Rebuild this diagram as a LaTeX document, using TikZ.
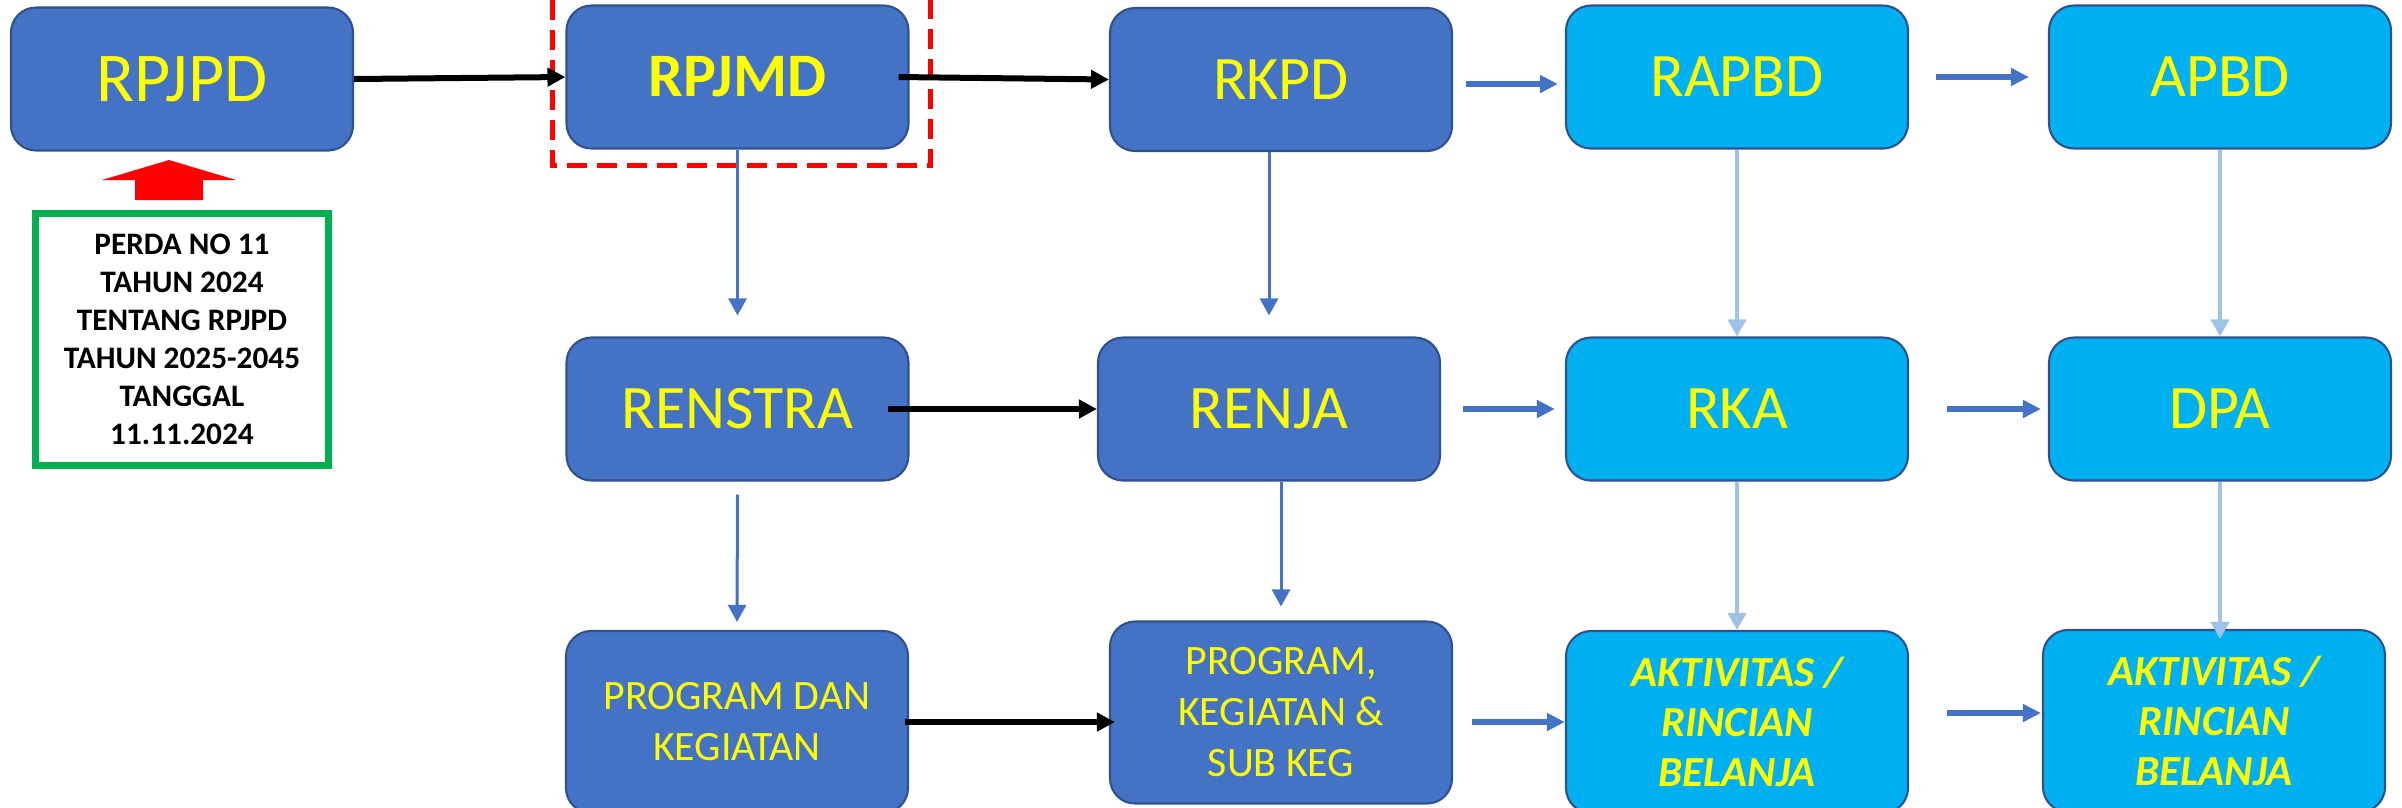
\documentclass[tikz,border=0pt]{standalone}
\usepackage{fontspec}
\setmainfont{Carlito}
\usetikzlibrary{arrows.meta, positioning}
\definecolor{boxblue}{RGB}{68,114,196}
\definecolor{boxcyan}{RGB}{0,176,240}
\definecolor{boxedge}{RGB}{47,82,143}
\definecolor{txtyellow}{RGB}{255,255,0}
\definecolor{framegreen}{RGB}{0,176,80}
\definecolor{paleblue}{RGB}{157,195,230}
\definecolor{myred}{RGB}{255,0,0}
\tikzset{
  darkbox/.style={rectangle, draw=boxedge, fill=boxblue, text=txtyellow,
    minimum width=3.42cm, minimum height=1.43cm, align=center,
    rounded corners=0.25cm, line width=0.6pt, inner sep=0pt},
  cyanbox/.style={darkbox, fill=boxcyan},
  tallbox/.style={minimum height=1.82cm},
  titlefont/.style={font=\fontsize{17.6}{21}\selectfont},
  boldtitle/.style={font=\bfseries\fontsize{17.6}{21}\selectfont},
  smallfont/.style={font=\fontsize{11.9}{14.5}\selectfont},
  italicfont/.style={font=\bfseries\itshape\fontsize{12.2}{14.2}\selectfont},
  perdabox/.style={rectangle, draw=framegreen, fill=white, line width=0.07cm,
    minimum width=2.93cm, minimum height=2.52cm, align=center, inner sep=0pt,
    font=\bfseries\fontsize{8.9}{10.8}\selectfont},
  blackarrow/.style={-{Triangle[length=0.18cm, width=0.18cm]}, line width=0.06cm, color=black},
  bluearrow/.style={-{Triangle[length=0.18cm, width=0.17cm]}, line width=0.06cm, color=boxblue},
  thinarrow/.style={-{Triangle[length=0.17cm, width=0.18cm]}, line width=0.03cm, color=boxblue},
  lightarrow/.style={-{Triangle[length=0.17cm, width=0.18cm]}, line width=0.04cm, color=paleblue},
  reddash/.style={draw=myred, line width=0.05cm, dash pattern=on 0.2cm off 0.1cm}
}
\begin{document}
\begin{tikzpicture}[y=-1cm]
  \useasboundingbox (0,0) rectangle (24.02,8.07);
  \clip (0,0) rectangle (24.02,8.07);

  % Top row
  \node[darkbox, font=\fontsize{19.9}{23}\selectfont] (rpjpd) at (1.82,0.79) {RPJPD};
  \node[darkbox, boldtitle] (rpjmd) at (7.375,0.77) {RPJMD};
  \node[darkbox, titlefont] (rkpd) at (12.81,0.795) {RKPD};
  \node[cyanbox, titlefont] (rapbd) at (17.37,0.77) {RAPBD};
  \node[cyanbox, titlefont] (apbd) at (22.20,0.77) {APBD};

  % Middle row
  \node[darkbox, titlefont] (renstra) at (7.375,4.09) {RENSTRA};
  \node[darkbox, titlefont] (renja) at (12.69,4.09) {RENJA};
  \node[cyanbox, titlefont] (rka) at (17.37,4.09) {RKA};
  \node[cyanbox, titlefont] (dpa) at (22.20,4.09) {DPA};

  % Bottom row
  \node[darkbox, tallbox, smallfont] (progdan) at (7.37,7.22) {PROGRAM DAN\\KEGIATAN};
  \node[darkbox, tallbox, smallfont] (progsub) at (12.81,7.125) {PROGRAM,\\KEGIATAN \&\\SUB KEG};
  \node[cyanbox, tallbox, italicfont] (akt1) at (17.37,7.22) {AKTIVITAS /\\RINCIAN\\BELANJA};
  \node[cyanbox, tallbox, italicfont] (akt2) at (22.14,7.21) {AKTIVITAS /\\RINCIAN\\BELANJA};

  % Legal basis and highlight
  \node[perdabox] (perda) at (1.82,3.395) {PERDA NO 11\\TAHUN 2024\\TENTANG RPJPD\\TAHUN 2025-2045\\TANGGAL\\11.11.2024};
  \fill[myred] (1.69,1.60) -- (2.36,1.80) -- (2.03,1.80) -- (2.03,2.00)
    -- (1.35,2.00) -- (1.35,1.80) -- (1.02,1.80) -- cycle;
  \draw[reddash] (5.52,-0.3) rectangle (9.30,1.655);

  % Black connectors
  \draw[blackarrow] (rpjpd.east) -- (rpjmd.west);
  \draw[blackarrow] ([xshift=-0.11cm]rpjmd.east) -- (rkpd.west);
  \draw[blackarrow] ([xshift=-0.22cm]renstra.east) -- (renja.west);
  \draw[blackarrow, shorten >=-0.06cm] ([xshift=-0.04cm]progdan.east) -- (progdan.east -| progsub.west);

  % Blue connectors
  \draw[bluearrow, shorten <=0.13cm, shorten >=0.07cm] ([yshift=-0.045cm]rkpd.east) -- ([yshift=-0.045cm]rkpd.east -| rapbd.west);
  \draw[bluearrow, shorten <=0.27cm, shorten >=0.19cm] (rapbd.east) -- (apbd.west);
  \draw[bluearrow, shorten <=0.22cm, shorten >=0.10cm] (renja.east) -- (rka.west);
  \draw[bluearrow, shorten <=0.38cm, shorten >=0.07cm] (rka.east) -- (dpa.west);
  \draw[bluearrow, shorten <=0.19cm] (akt1.west -| progsub.east) -- (akt1.west);
  \draw[bluearrow, shorten <=0.38cm, shorten >=0.01cm] ([yshift=0.09cm]akt1.east) -- ([yshift=0.09cm]akt1.east -| akt2.west);

  % Vertical connectors
  \draw[thinarrow, shorten >=0.21cm] (rpjmd.south) -- (renstra.north);
  \draw[thinarrow, shorten <=0.13cm, shorten >=0.08cm] (renstra.south) -- (progdan.north);
  \draw[thinarrow, shorten >=0.21cm] (rkpd.south -| renja.north) -- (renja.north);
  \draw[thinarrow, shorten >=0.14cm] (renja.south -| progsub.north) -- (progsub.north);
  \draw[lightarrow] (rapbd.south) -- (rka.north);
  \draw[lightarrow] (apbd.south) -- (dpa.north);
  \draw[lightarrow] (rka.south) -- (akt1.north);
  \draw[lightarrow, shorten >=-0.1cm] (dpa.south) -- (dpa.south |- akt2.north);
\end{tikzpicture}
\end{document}
